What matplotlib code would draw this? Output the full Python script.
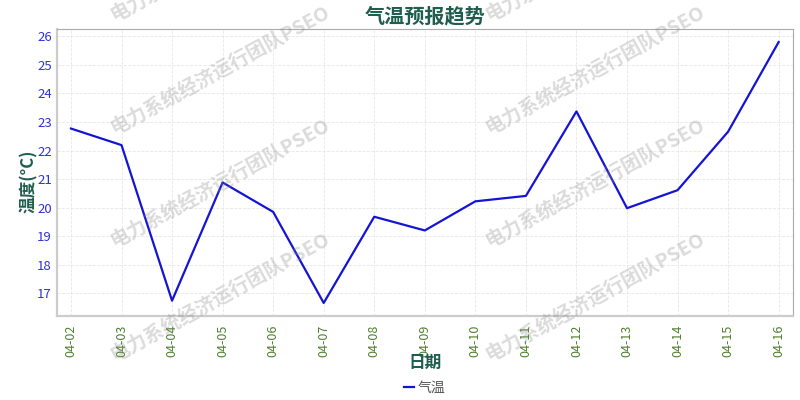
import matplotlib
matplotlib.use("Agg")
import matplotlib.pyplot as plt

plt.rcParams['font.family'] = ['Noto Sans CJK SC', 'DejaVu Sans']
plt.rcParams['axes.unicode_minus'] = False

# 日期 and forecast temperatures
dates = ['04-02', '04-03', '04-04', '04-05', '04-06', '04-07', '04-08', '04-09',
         '04-10', '04-11', '04-12', '04-13', '04-14', '04-15', '04-16']
temps = [22.77, 22.19, 16.74, 20.88, 19.85, 16.66, 19.68, 19.20,
         20.22, 20.41, 23.37, 19.98, 20.61, 22.66, 25.80]
yticks = [17, 18, 19, 20, 21, 22, 23, 24, 25, 26]
watermark = '电力系统经济运行团队PSEO'

title_color = '#1e5e4e'

fig = plt.figure(figsize=(8, 4), dpi=100)
ax = fig.add_axes([0.071, 0.21, 0.92, 0.7175])

x = list(range(len(dates)))
ax.plot(x, temps, color='#1414d4', lw=1.6, label='气温')
ax.margins(x=0.02)

ax.set_xticks(x)
ax.set_xticklabels(dates, rotation=90, color='#4f7f2f', fontsize=9)
ax.set_yticks(yticks)
ax.tick_params(axis='y', labelsize=9.5, length=0)
ax.tick_params(axis='x', length=0, pad=6)
for lab in ax.get_yticklabels():
    lab.set_color('#3030d8')

ax.grid(True, color='#e6e6e6', lw=0.6, ls='--')
for side in ['top', 'right']:
    ax.spines[side].set_color('#aaaaaa')
    ax.spines[side].set_linewidth(0.8)
for side in ['left', 'bottom']:
    ax.spines[side].set_color('#cccccc')
    ax.spines[side].set_linewidth(1.6)

ax.set_title('气温预报趋势', fontsize=14.5, fontweight='bold', color=title_color, pad=5)
ax.set_xlabel('日期', fontsize=12, fontweight='bold', color=title_color, labelpad=-2)
ax.set_ylabel('温度(°C)', fontsize=12, fontweight='bold', color=title_color)
ax.yaxis.set_label_coords(-0.025, 0.47)

leg = ax.legend(loc='center', bbox_to_anchor=(0.5, -0.25), frameon=False,
                handlelength=0.7, handletextpad=0.3, fontsize=10,
                borderpad=0, borderaxespad=0)
for t in leg.get_texts():
    t.set_color('#555555')

# platform watermark
for cx in [220, 595]:
    for cy in [-44, 69, 182, 296]:
        fig.text(cx / 800, 1 - cy / 400, watermark, fontsize=14, fontweight='bold',
                 color='#888888', alpha=0.3, rotation=28.7, ha='center', va='center',
                 rotation_mode='anchor', zorder=10)

fig.savefig('out.png', dpi=100)
